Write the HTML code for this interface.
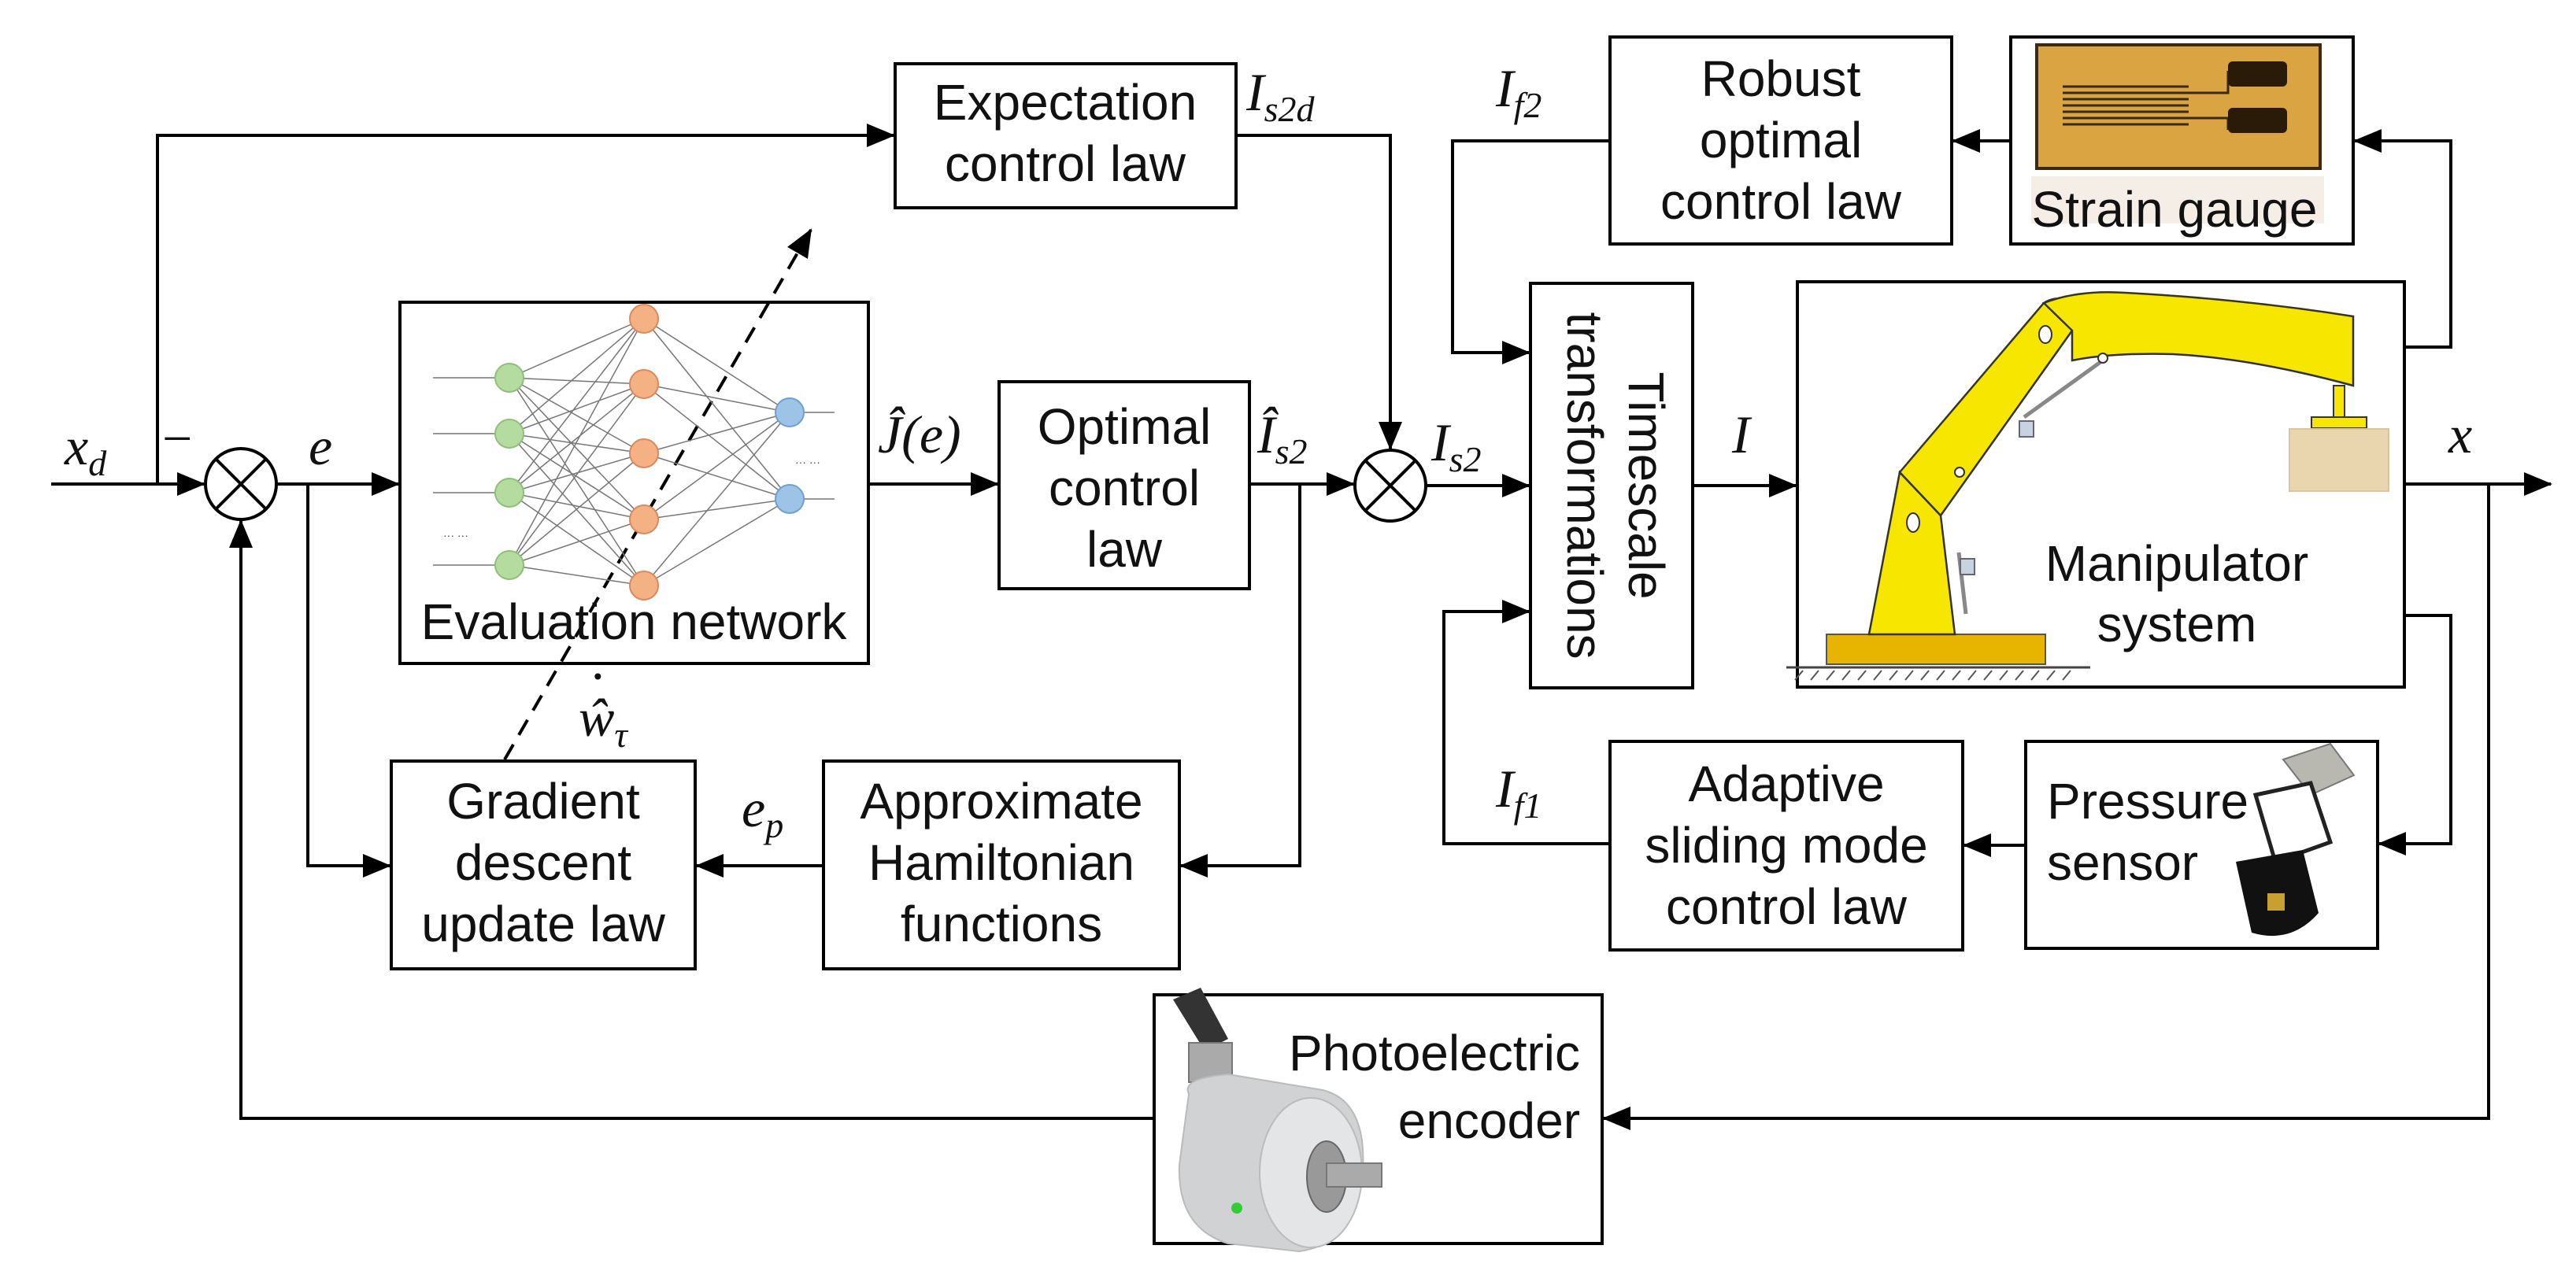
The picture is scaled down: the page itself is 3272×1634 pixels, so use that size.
<!DOCTYPE html>
<html><head><meta charset="utf-8"><style>
html,body{margin:0;padding:0;background:#fff}
svg{display:block}
.t{font-family:"Liberation Sans",Arial,sans-serif;font-size:64px;fill:#111}
.m{font-family:"Liberation Serif","DejaVu Serif",serif;font-style:italic;font-size:68px;fill:#111}
.s{font-size:46px}
</style></head><body>
<svg width="3272" height="1634" viewBox="0 0 3272 1634" xmlns="http://www.w3.org/2000/svg">
<defs>
<marker id="A" markerWidth="36" markerHeight="30" refX="34" refY="15" orient="auto" markerUnits="userSpaceOnUse"><path d="M0,0 L36,15 L0,30z" fill="#000"/></marker>
</defs>
<g fill="none" stroke="#000" stroke-width="4">
<rect x="1137" y="81" width="433" height="183"/>
<rect x="508" y="384" width="595" height="459"/>
<rect x="1269" y="485" width="318" height="263"/>
<rect x="497" y="967" width="386" height="264"/>
<rect x="1046" y="967" width="452" height="264"/>
<rect x="1466" y="1264" width="569" height="316"/>
<rect x="2045" y="47" width="434" height="263"/>
<rect x="2554" y="47" width="435" height="263"/>
<rect x="1944" y="360" width="206" height="514"/>
<rect x="2283" y="358" width="771" height="515"/>
<rect x="2045" y="942" width="448" height="265"/>
<rect x="2573" y="942" width="447" height="263"/>
<circle cx="306" cy="615" r="45"/>
<path d="M274,583 L338,647 M338,583 L274,647"/>
<circle cx="1766" cy="617" r="45"/>
<path d="M1734,585 L1798,649 M1798,585 L1734,649"/>
<path d="M65,615 H259" marker-end="url(#A)"/>
<path d="M200,615 V172 H1135" marker-end="url(#A)"/>
<path d="M351,615 H506" marker-end="url(#A)"/>
<path d="M391,615 V1100 H495" marker-end="url(#A)"/>
<path d="M1103,615 H1267" marker-end="url(#A)"/>
<path d="M1587,615 H1719" marker-end="url(#A)"/>
<path d="M1651,615 V1100 H1500" marker-end="url(#A)"/>
<path d="M1046,1100 H885" marker-end="url(#A)"/>
<path d="M1570,172 H1766 V570" marker-end="url(#A)"/>
<path d="M1811,617 H1942" marker-end="url(#A)"/>
<path d="M2150,617 H2281" marker-end="url(#A)"/>
<path d="M2045,179 H1845 V448 H1942" marker-end="url(#A)"/>
<path d="M2045,1072 H1834 V777 H1942" marker-end="url(#A)"/>
<path d="M2554,179 H2481" marker-end="url(#A)"/>
<path d="M3054,441 H3113 V179 H2991" marker-end="url(#A)"/>
<path d="M3054,782 H3113 V1072 H3022" marker-end="url(#A)"/>
<path d="M2573,1074 H2495" marker-end="url(#A)"/>
<path d="M3054,615 H3240" marker-end="url(#A)"/>
<path d="M3161,615 V1421 H2037" marker-end="url(#A)"/>
<path d="M1466,1421 H306 V662" marker-end="url(#A)"/>
<path d="M641,965 L1030,292" stroke-dasharray="22,14" marker-end="url(#A)"/>
</g>
<g stroke="#777" stroke-width="1.5" fill="none">
<path d="M550,480 H629 M550,551 H629 M550,626 H629 M550,718 H629 M1021,524 H1060 M1021,634 H1060"/>
<path d="M647,480 L818,405 M647,480 L818,488 M647,480 L818,576 M647,480 L818,660 M647,480 L818,744
M647,551 L818,405 M647,551 L818,488 M647,551 L818,576 M647,551 L818,660 M647,551 L818,744
M647,626 L818,405 M647,626 L818,488 M647,626 L818,576 M647,626 L818,660 M647,626 L818,744
M647,718 L818,405 M647,718 L818,488 M647,718 L818,576 M647,718 L818,660 M647,718 L818,744
M818,405 L1003,524 M818,405 L1003,634 M818,488 L1003,524 M818,488 L1003,634 M818,576 L1003,524 M818,576 L1003,634 M818,660 L1003,524 M818,660 L1003,634 M818,744 L1003,524 M818,744 L1003,634"/>
</g>
<g stroke-width="2">
<g fill="#b5dca0" stroke="#8fbf78"><circle cx="647" cy="480" r="18"/><circle cx="647" cy="551" r="18"/><circle cx="647" cy="626" r="18"/><circle cx="647" cy="718" r="18"/></g>
<g fill="#f4b183" stroke="#d9895a"><circle cx="818" cy="405" r="18"/><circle cx="818" cy="488" r="18"/><circle cx="818" cy="576" r="18"/><circle cx="818" cy="660" r="18"/><circle cx="818" cy="744" r="18"/></g>
<g fill="#9dc3e6" stroke="#6f9fcf"><circle cx="1003" cy="524" r="18"/><circle cx="1003" cy="634" r="18"/></g>
</g>
<text x="563" y="685" font-size="14" fill="#444" font-family="Liberation Sans">··· ···</text>
<text x="1010" y="592" font-size="14" fill="#444" font-family="Liberation Sans">··· ···</text>
<rect x="2587" y="57" width="360" height="157" fill="#d9a441" stroke="#3a2a10" stroke-width="4"/>
<g stroke="#3a2a10" stroke-width="3" fill="none"><path d="M2620,110 H2780 M2620,118 H2780 M2620,126 H2780 M2620,134 H2780 M2620,142 H2780 M2620,150 H2780 M2620,158 H2780 M2780,118 H2830 V90 M2780,150 H2830 V165"/></g>
<rect x="2830" y="78" width="75" height="32" rx="6" fill="#2a1a08"/>
<rect x="2830" y="137" width="75" height="32" rx="6" fill="#2a1a08"/>
<rect x="2580" y="224" width="372" height="60" fill="#f4eee6"/>
<path d="M2269,848 H2655" stroke="#444" stroke-width="3"/>
<path d="M2290,852 l-10,12 M2310,852 l-10,12 M2330,852 l-10,12 M2350,852 l-10,12 M2370,852 l-10,12 M2390,852 l-10,12 M2410,852 l-10,12 M2430,852 l-10,12 M2450,852 l-10,12 M2470,852 l-10,12 M2490,852 l-10,12 M2510,852 l-10,12 M2530,852 l-10,12 M2550,852 l-10,12 M2570,852 l-10,12 M2590,852 l-10,12 M2610,852 l-10,12 M2630,852 l-10,12" stroke="#555" stroke-width="2"/>
<rect x="2320" y="806" width="278" height="38" fill="#e7b400" stroke="#555" stroke-width="2"/>
<g stroke="#888" stroke-width="5"><path d="M2488,702 L2497,780 M2571,530 L2675,455"/></g>
<g fill="#f7e600" stroke="#333" stroke-width="2.5">
<path d="M2374,806 L2483,806 L2465,655 L2413,600 Z"/>
<path d="M2413,600 L2596,385 Q2620,370 2640,395 L2632,420 L2465,655 Z"/>
<path d="M2596,385 Q2640,368 2700,372 Q2850,380 2989,402 L2989,490 Q2860,455 2760,450 Q2680,448 2632,458 L2632,420 Z"/>
</g>
<g fill="#fff" stroke="#333" stroke-width="2"><ellipse cx="2430" cy="664" rx="8" ry="12"/><ellipse cx="2598" cy="425" rx="8" ry="11"/><circle cx="2489" cy="600" r="6"/><circle cx="2671" cy="455" r="6"/></g>
<g fill="#c9d3e0" stroke="#667" stroke-width="2"><rect x="2490" y="710" width="18" height="20"/><rect x="2565" y="535" width="18" height="20"/></g>
<rect x="2964" y="490" width="14" height="40" fill="#f7e600" stroke="#333" stroke-width="2"/>
<rect x="2936" y="530" width="70" height="14" fill="#f7e600" stroke="#333" stroke-width="2"/>
<rect x="2908" y="545" width="126" height="79" fill="#ead6ae" stroke="#d8c6a0" stroke-width="2"/>
<!-- pressure sensor -->
<path d="M2900,965 L2960,945 L2990,985 L2935,1010 Z" fill="#b8b8b0" stroke="#777" stroke-width="2"/>
<path d="M2865,1010 L2935,995 L2960,1070 L2890,1095 Z" fill="#fff" stroke="#222" stroke-width="5"/>
<path d="M2840,1095 L2925,1080 L2945,1160 Q2910,1200 2860,1185 Z" fill="#111"/>
<rect x="2880" y="1135" width="22" height="22" fill="#c9a030"/>
<!-- encoder -->
<path d="M1490,1270 L1525,1255 L1560,1320 L1530,1335 Z" fill="#333"/>
<rect x="1510" y="1325" width="55" height="50" fill="#aaa" stroke="#777" stroke-width="2"/>
<path d="M1510,1390 Q1500,1370 1560,1365 L1680,1385 Q1740,1400 1730,1500 Q1720,1580 1650,1590 L1560,1580 Q1495,1560 1498,1480 Z" fill="#d0d2d4" stroke="#bbb" stroke-width="2"/>
<ellipse cx="1665" cy="1490" rx="65" ry="95" fill="#e3e5e7" stroke="#bbb" stroke-width="2"/>
<ellipse cx="1685" cy="1495" rx="25" ry="45" fill="#999" stroke="#666" stroke-width="2"/>
<rect x="1685" y="1478" width="70" height="30" fill="#aaa" stroke="#777" stroke-width="2"/>
<circle cx="1571" cy="1535" r="7" fill="#3c3"/>
<g class="t">
<text x="1353" y="152" text-anchor="middle">Expectation</text>
<text x="1353" y="230" text-anchor="middle">control law</text>
<text x="805" y="812" text-anchor="middle">Evaluation network</text>
<text x="1428" y="564" text-anchor="middle">Optimal</text>
<text x="1428" y="642" text-anchor="middle">control</text>
<text x="1428" y="720" text-anchor="middle">law</text>
<text x="690" y="1040" text-anchor="middle">Gradient</text>
<text x="690" y="1118" text-anchor="middle">descent</text>
<text x="690" y="1196" text-anchor="middle">update law</text>
<text x="1272" y="1040" text-anchor="middle">Approximate</text>
<text x="1272" y="1118" text-anchor="middle">Hamiltonian</text>
<text x="1272" y="1196" text-anchor="middle">functions</text>
<text x="2007" y="1360" text-anchor="end">Photoelectric</text>
<text x="2007" y="1446" text-anchor="end">encoder</text>
<text x="2262" y="122" text-anchor="middle">Robust</text>
<text x="2262" y="200" text-anchor="middle">optimal</text>
<text x="2262" y="278" text-anchor="middle">control law</text>
<text x="2762" y="288" text-anchor="middle">Strain gauge</text>
<text x="2765" y="738" text-anchor="middle">Manipulator</text>
<text x="2765" y="815" text-anchor="middle">system</text>
<text x="2269" y="1018" text-anchor="middle">Adaptive</text>
<text x="2269" y="1096" text-anchor="middle">sliding mode</text>
<text x="2269" y="1174" text-anchor="middle">control law</text>
<text x="2600" y="1040">Pressure</text>
<text x="2600" y="1118">sensor</text>
<g transform="translate(2047,617) rotate(90)">
<text x="0" y="-22" text-anchor="middle">Timescale</text>
<text x="0" y="56" text-anchor="middle">transformations</text>
</g>
</g>
<g class="m">
<text x="82" y="590">x<tspan class="s" dy="14">d</tspan></text>
<text x="206" y="580" font-style="normal">−</text>
<text x="392" y="590">e</text>
<text x="1115" y="575">Ĵ(e)</text>
<text x="1597" y="575">Î<tspan class="s" dy="14">s2</tspan></text>
<text x="1583" y="140">I<tspan class="s" dy="14">s2d</tspan></text>
<text x="1818" y="585">I<tspan class="s" dy="14">s2</tspan></text>
<text x="735" y="935">ŵ<tspan class="s" dy="14">τ</tspan></text>
<text x="748" y="882" font-style="normal">·</text>
<text x="942" y="1050">e<tspan class="s" dy="14">p</tspan></text>
<text x="1900" y="135">I<tspan class="s" dy="14">f2</tspan></text>
<text x="1900" y="1025">I<tspan class="s" dy="14">f1</tspan></text>
<text x="2200" y="575">I</text>
<text x="3110" y="575">x</text>
</g>
</svg>
</body></html>
